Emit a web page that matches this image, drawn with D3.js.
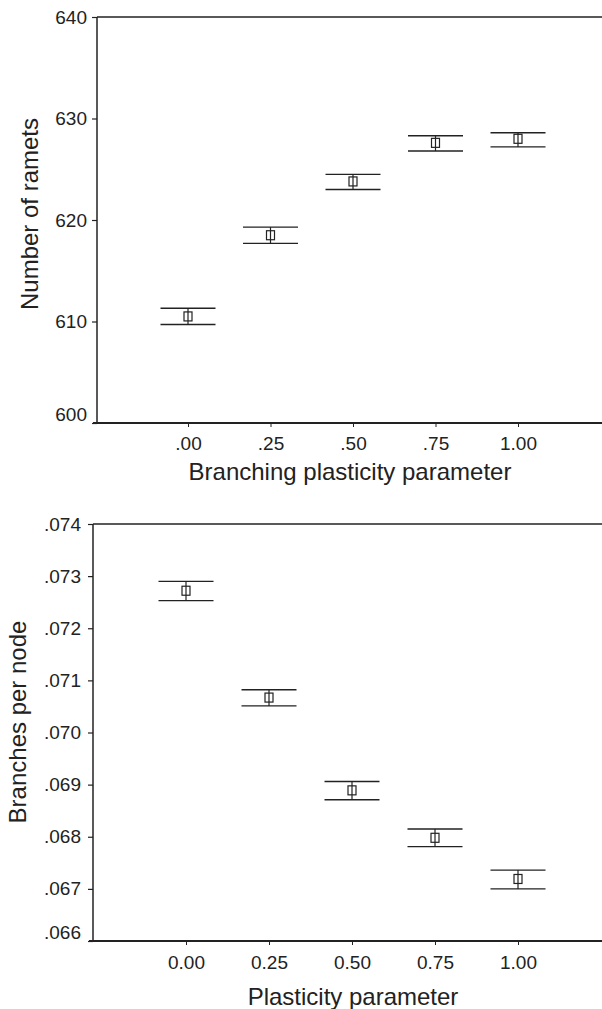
<!DOCTYPE html>
<html>
<head>
<meta charset="utf-8">
<script src="https://cdn.jsdelivr.net/npm/d3@7"></script>
<style>
  body { margin: 0; background: #fff; }
  svg text { font-family: "Liberation Sans", Arial, Helvetica, sans-serif; fill: #222; }
</style>
</head>
<body>
<div id="chart"></div>
<script>
// plasticity parameter values (x)
var params = [0, 0.25, 0.5, 0.75, 1];

// top panel: number of ramets (mean, upper and lower bar)
var rametsMean = [610.5, 618.5, 623.8, 627.6, 628.0];
var rametsHi   = [611.3, 619.3, 624.5, 628.3, 628.6];
var rametsLo   = [609.7, 617.7, 623.0, 626.8, 627.2];
var rametsTicks = [600, 610, 620, 630, 640];
var rametsXLabels = [".00", ".25", ".50", ".75", "1.00"];

// bottom panel: branches per node
var branchMean = [0.07272, 0.07067, 0.06889, 0.06798, 0.06719];
var branchHi   = [0.07290, 0.07082, 0.06906, 0.06815, 0.06736];
var branchLo   = [0.07253, 0.07051, 0.06871, 0.06781, 0.06700];
var branchTicks = [0.066, 0.067, 0.068, 0.069, 0.070, 0.071, 0.072, 0.073, 0.074];
var branchXLabels = ["0.00", "0.25", "0.50", "0.75", "1.00"];

var W = 602, H = 1009;
var ink = "#222";

var svg = d3.select("#chart").append("svg")
    .attr("width", W)
    .attr("height", H);

function panel(opt) {
    var g = svg.append("g");

    var x = d3.scaleLinear()
        .domain([0, 1])
        .range([opt.x0, opt.x1]);
    var y = d3.scaleLinear()
        .domain(opt.yDomain)
        .range([opt.bottom, opt.top]);

    var left = opt.axisX;

    // y axis
    var yAxis = d3.axisLeft(y)
        .tickValues(opt.yTicks)
        .tickSize(5)
        .tickPadding(opt.yPad)
        .tickFormat(opt.yFormat);
    var ya = g.append("g")
        .attr("transform", "translate(" + left + ",0)")
        .call(yAxis);
    ya.select(".domain").remove();
    ya.selectAll("line").attr("stroke", ink).attr("stroke-width", 1.2);
    ya.selectAll("text").style("font-size", "19px").attr("fill", ink);
    // lowest label sits a bit above its tick, as in the original
    ya.selectAll("text").filter(function(d) { return d === opt.yDomain[0]; })
        .attr("y", -9);

    // frame lines: left, top
    g.append("line")
        .attr("x1", left).attr("x2", left)
        .attr("y1", opt.top).attr("y2", opt.bottom)
        .attr("stroke", ink).attr("stroke-width", 1.5);
    g.append("line")
        .attr("x1", left).attr("x2", W)
        .attr("y1", opt.top).attr("y2", opt.top)
        .attr("stroke", ink).attr("stroke-width", 1.3);

    // x axis
    var xAxis = d3.axisBottom(x)
        .tickValues(params)
        .tickSize(4)
        .tickPadding(opt.xPad)
        .tickFormat(function(d, i) { return opt.xLabels[i]; });
    var xa = g.append("g")
        .attr("transform", "translate(0," + opt.bottom + ")")
        .call(xAxis);
    xa.select(".domain").remove();
    xa.selectAll("line").attr("stroke", ink).attr("stroke-width", 1);
    xa.selectAll("text").style("font-size", "19px").attr("fill", ink);
    g.append("line")
        .attr("x1", left - 4).attr("x2", W)
        .attr("y1", opt.bottom).attr("y2", opt.bottom)
        .attr("stroke", ink).attr("stroke-width", 1.8);

    // axis titles
    g.append("text")
        .attr("x", opt.xTitleX)
        .attr("y", opt.bottom + opt.xTitleDy)
        .attr("text-anchor", "middle")
        .style("font-size", "24px")
        .text(opt.xTitle);
    g.append("text")
        .attr("transform", "translate(" + opt.yTitleX + "," + opt.yTitleY + ") rotate(-90)")
        .attr("text-anchor", "middle")
        .style("font-size", "24px")
        .text(opt.yTitle);

    // error bars
    var half = 27.5;
    var pts = g.selectAll(".pt")
        .data(params.map(function(p, i) {
            return { p: p, m: opt.mean[i], hi: opt.hi[i], lo: opt.lo[i] };
        }))
        .enter().append("g");

    pts.append("line")
        .attr("x1", function(d) { return x(d.p) - half; })
        .attr("x2", function(d) { return x(d.p) + half; })
        .attr("y1", function(d) { return y(d.hi); })
        .attr("y2", function(d) { return y(d.hi); })
        .attr("stroke", ink).attr("stroke-width", 1.4);
    pts.append("line")
        .attr("x1", function(d) { return x(d.p) - half; })
        .attr("x2", function(d) { return x(d.p) + half; })
        .attr("y1", function(d) { return y(d.lo); })
        .attr("y2", function(d) { return y(d.lo); })
        .attr("stroke", ink).attr("stroke-width", 1.4);
    pts.append("line")
        .attr("x1", function(d) { return x(d.p); })
        .attr("x2", function(d) { return x(d.p); })
        .attr("y1", function(d) { return y(d.hi); })
        .attr("y2", function(d) { return y(d.lo); })
        .attr("stroke", ink).attr("stroke-width", 1.2);
    pts.append("rect")
        .attr("x", function(d) { return x(d.p) - 4; })
        .attr("y", function(d) { return y(d.m) - 4.5; })
        .attr("width", 8)
        .attr("height", 9)
        .attr("fill", "none")
        .attr("stroke", ink).attr("stroke-width", 1.2);
}

panel({
    axisX: 97, top: 17, bottom: 423, x0: 188, x1: 518,
    yDomain: [600, 640], yTicks: rametsTicks, yPad: 5,
    yFormat: function(d) { return d; },
    xLabels: rametsXLabels, xPad: 10,
    mean: rametsMean, hi: rametsHi, lo: rametsLo,
    xTitle: "Branching plasticity parameter", xTitleX: 350, xTitleDy: 57,
    yTitle: "Number of ramets", yTitleX: 38, yTitleY: 214
});

panel({
    axisX: 93, top: 524, bottom: 941, x0: 186, x1: 518,
    yDomain: [0.066, 0.074], yTicks: branchTicks, yPad: 7,
    yFormat: function(d) { return d3.format(".3f")(d).replace(/^0/, ""); },
    xLabels: branchXLabels, xPad: 11,
    mean: branchMean, hi: branchHi, lo: branchLo,
    xTitle: "Plasticity parameter", xTitleX: 353, xTitleDy: 64,
    yTitle: "Branches per node", yTitleX: 26, yTitleY: 722
});
</script>
</body>
</html>
